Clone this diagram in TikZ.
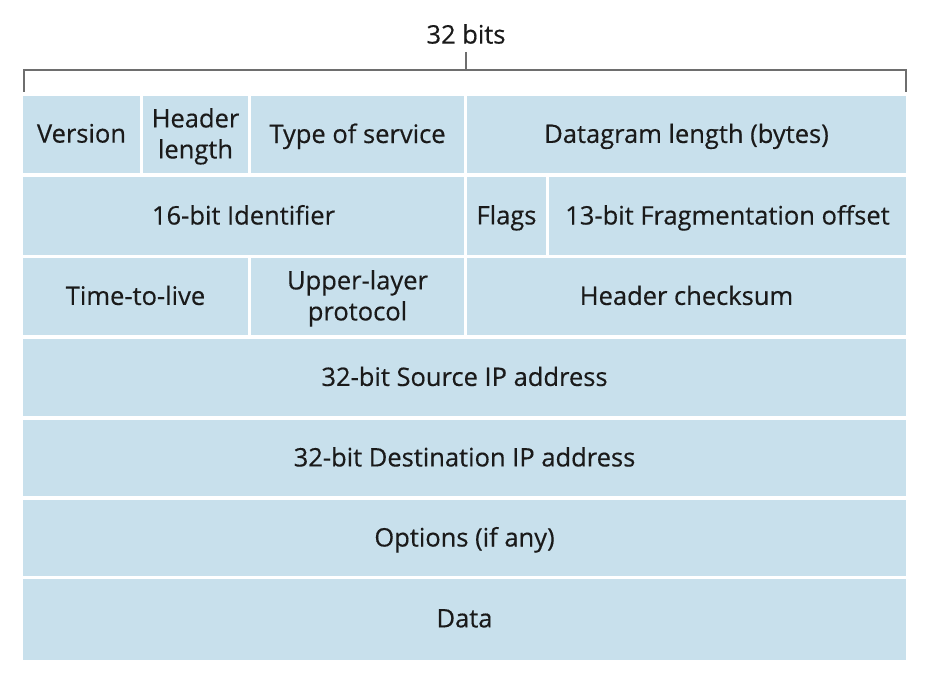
\documentclass[tikz,border=0pt]{standalone}
\usepackage{fontspec}
\setmainfont{Open Sans}
\newfontfamily\labelfont{Open Sans}[FakeBold=0.4]
\definecolor{cellfill}{HTML}{C8E0EC}
\definecolor{txt}{HTML}{1A1A1A}
\definecolor{brk}{HTML}{6E6E6E}
\newcommand{\fcell}[6]{%
  \node[cell, minimum width={(#4-#2)*1pt}, minimum height={(#5-#3)*1pt}] (#1) at ({(#2+#4)/2},{(#3+#5)/2}) {#6};}
\begin{document}
\begin{tikzpicture}[x=1pt,y=-1pt,
  cell/.style={fill=cellfill, draw=none, inner sep=0pt, text=txt, align=center,
    font=\labelfont\fontsize{25.5}{31}\selectfont, text depth=2.5pt},
  bracket/.style={draw=brk, line width=1.4pt}]
\useasboundingbox (0,0) rectangle (933,679);
% bracket
\coordinate (bl) at (24,92);
\coordinate (br) at (906,92);
\coordinate (bm) at (466,70);
\coordinate (bt) at (466,52);
\draw[bracket] (bl) |- (br |- bm) -- (br);
\draw[bracket] (bt) -- (bm);
\node[text=txt, font=\labelfont\fontsize{25.5}{31}\selectfont, inner sep=0pt] (title) at (466,34) {32 bits};
% row 1
\fcell{version}{23}{96}{140}{173}{Version}
\fcell{hlen}{143}{96}{248}{173}{Header\\length}
\fcell{tos}{251}{96}{464}{173}{Type of service}
\fcell{dlen}{467}{96}{906}{173}{Datagram length (bytes)}
% row 2
\fcell{ident}{23}{177}{464}{255}{16-bit Identifier}
\fcell{flags}{467}{177}{546}{255}{Flags}
\fcell{frag}{549}{177}{906}{255}{13-bit Fragmentation offset}
% row 3
\fcell{ttl}{23}{258}{248}{335}{Time-to-live}
\fcell{ulp}{251}{258}{464}{335}{Upper-layer\\protocol}
\fcell{csum}{467}{258}{906}{335}{Header checksum}
% rows 4-7
\fcell{src}{23}{339}{906}{416}{32-bit Source IP address}
\fcell{dst}{23}{420}{906}{496}{32-bit Destination IP address}
\fcell{opts}{23}{500}{906}{576}{Options (if any)}
\fcell{data}{23}{579}{906}{660}{Data}
\end{tikzpicture}
\end{document}
